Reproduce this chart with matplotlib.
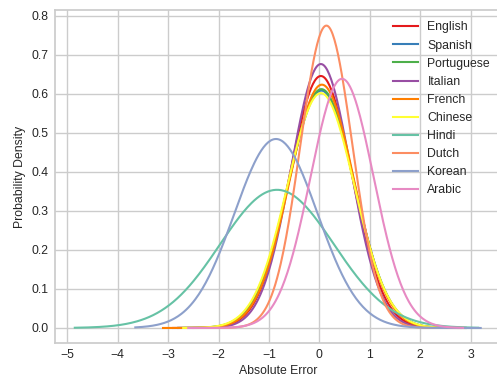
import matplotlib
matplotlib.use("Agg")
import matplotlib.pyplot as plt
import numpy as np

languages = ["English", "Spanish", "Portuguese", "Italian", "French",
             "Chinese", "Hindi", "Dutch", "Korean", "Arabic"]
colors = ["#e41a1c", "#377eb8", "#4daf4a", "#984ea3", "#ff7f00",
          "#ffff33", "#66c2a5", "#fc8d62", "#8da0cb", "#e78ac3"]

# fitted error distributions
means = [0.03, 0.04, 0.04, 0.03, 0.05, 0.03, -0.84, 0.14, -0.86, 0.45]
stds = [0.618, 0.656, 0.652, 0.590, 0.640, 0.663, 1.127, 0.515, 0.824, 0.625]
x_lo = [-2.9, -2.8, -2.8, -2.8, -3.1, -2.7, -4.85, -2.5, -3.65, -2.6]
x_hi = [2.9, 2.9, 2.9, 2.8, 2.8, 2.9, 3.15, 2.9, 3.2, 2.85]

plt.rcParams.update({
    "font.family": ["Liberation Sans", "DejaVu Sans"],
    "font.size": 8.8,
    "text.color": "#262626",
    "axes.labelcolor": "#262626",
    "xtick.color": "#262626",
    "ytick.color": "#262626",
    "axes.edgecolor": "#cccccc",
    "axes.linewidth": 1.25,
    "grid.color": "#cccccc",
    "grid.linewidth": 1.0,
    "xtick.major.size": 0,
    "ytick.major.size": 0,
    "xtick.major.pad": 4,
    "ytick.major.pad": 4,
})


def normal_pdf(x, mu, sigma):
    return np.exp(-0.5 * ((x - mu) / sigma) ** 2) / (sigma * np.sqrt(2 * np.pi))


fig = plt.figure(figsize=(4.97, 3.76), dpi=100)
ax = fig.add_axes([54.5 / 497, 0.0875, 446.5 / 497, 0.8846])
ax.grid(True)
ax.set_axisbelow(True)

for lang, col, mu, sd, lo, hi in zip(languages, colors, means, stds, x_lo, x_hi):
    xs = np.linspace(lo, hi, 300)
    ax.plot(xs, normal_pdf(xs, mu, sd), color=col, lw=1.5, label=lang)

ax.set_xticks(range(-5, 4))
ax.set_xlabel("Absolute Error", labelpad=3)
ax.set_ylabel("Probability Density", labelpad=4)
ax.legend(loc="upper right", frameon=False, fontsize=8.8)

fig.savefig("out.png", dpi=100)
